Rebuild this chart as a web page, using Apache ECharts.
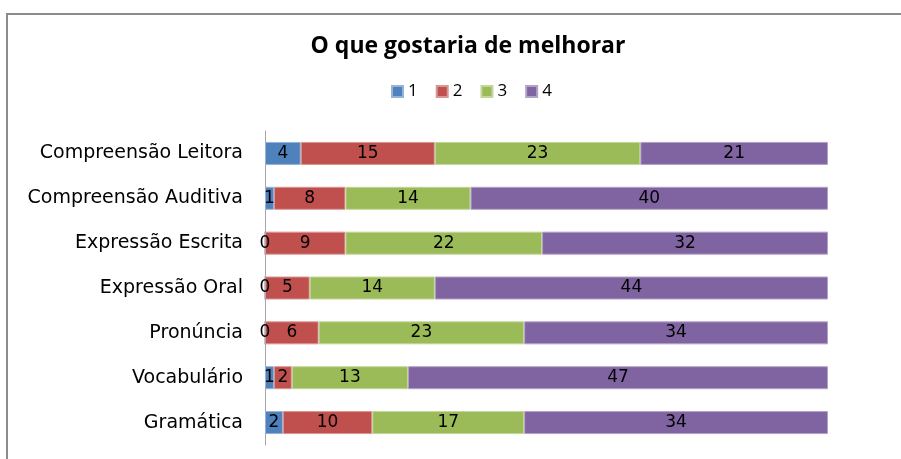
<!DOCTYPE html>
<html><head><meta charset="utf-8">
<script src="https://cdn.jsdelivr.net/npm/echarts@6/dist/echarts.min.js"></script>
<style>
html,body{margin:0;padding:0;background:#fff;overflow:hidden}
#frame{position:absolute;left:6px;top:13px;width:1000px;height:600px;border-left:2px solid #8c8c8c;border-top:2px solid #8c8c8c}
#c{position:absolute;left:0;top:0;width:901px;height:459px}
</style></head><body>
<div id="frame"></div>
<div id="c"></div>
<script>
const categories = ['Compreensão Leitora','Compreensão Auditiva','Expressão Escrita','Expressão Oral','Pronúncia','Vocabulário','Gramática'];
const s1 = [4,1,0,0,0,1,2];
const s2 = [15,8,9,5,6,2,10];
const s3 = [23,14,22,14,23,13,17];
const s4 = [21,40,32,44,34,47,34];
const seriesNames = ['1','2','3','4'];
const colors = ['#4F81BD','#C0504D','#9BBB59','#8064A2'];
const borders = ['#95b3d7','#d99694','#c3d69b','#b3a2c7'];
const data = [s1,s2,s3,s4];

const chart = echarts.init(document.getElementById('c'));
chart.setOption({
  animation:false,
  backgroundColor:'transparent',
  title:{text:'O que gostaria de melhorar',left:463,top:30,textAlign:'center',
    textStyle:{fontFamily:'Open Sans',fontWeight:'bold',fontSize:23,color:'#000'}},
  legend:{left:386,top:78,itemWidth:11,itemHeight:11,itemGap:18,icon:'rect',
    textStyle:{fontFamily:'Open Sans',fontSize:17,color:'#000'},data:seriesNames},
  grid:{left:265,right:73,top:131,bottom:14,containLabel:false},
  xAxis:{type:'value',min:0,max:63,show:false},
  yAxis:{type:'category',data:categories,inverse:true,
    axisLine:{show:true,lineStyle:{color:'#a6a6a6',width:1}},
    axisTick:{show:false},
    axisLabel:{fontFamily:'DejaVu Sans',fontSize:19,color:'#000',margin:22}},
  series:data.map((d,i)=>({
    name:seriesNames[i],type:'bar',stack:'all',data:d,barWidth:23,
    itemStyle:{color:colors[i],borderColor:borders[i],borderWidth:1},
    label:{show:true,position:'inside',fontFamily:'DejaVu Sans',fontSize:17,color:'#000'}
  }))
});
</script></body></html>
